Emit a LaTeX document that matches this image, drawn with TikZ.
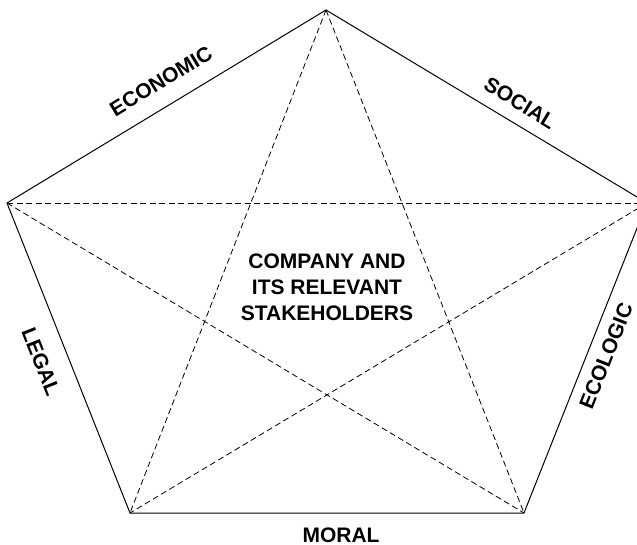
\documentclass[tikz,border=0pt]{standalone}
\usepackage{fontspec}
\setsansfont{Liberation Sans}
\usepackage{tikz}

\tikzset{
  side/.style={line width=1pt, color=black},
  diag/.style={line width=0.8pt, dash pattern=on 6pt off 3.5pt},
  lbl/.style={font=\sffamily\bfseries\fontsize{21}{26}\selectfont, inner sep=0pt}
}

\begin{document}
\begin{tikzpicture}[x=1pt, y=-1pt, every node/.style={lbl}]
  \clip (0,0) rectangle (637,545);

  \coordinate (top) at (326,10);
  \coordinate (left) at (7,203);
  \coordinate (right) at (647,203);
  \coordinate (lowleft) at (130,513);
  \coordinate (lowright) at (524,513);

  \draw[side] (top) -- (right) -- (lowright) -- (lowleft) -- (left) -- cycle;

  \draw[diag] (left) -- (right);
  \draw[diag] (top) -- (lowleft);
  \draw[diag] (top) -- (lowright);
  \draw[diag] (left) -- (lowright);
  \draw[diag] (right) -- (lowleft);

  \node[rotate=31.2] (economic) at (161,81) {ECONOMIC};
  \node[rotate=-31.2] (social) at (520,103) {SOCIAL};
  \node[rotate=-68.4] (legal) at (41,362) {LEGAL};
  \node[rotate=68.4] (ecologic) at (606,356) {ECOLOGIC};
  \node (moral) at (341,535) {MORAL};

  \node[align=center] (company) at (327,287)
  {COMPANY AND\\ITS RELEVANT\\STAKEHOLDERS};
\end{tikzpicture}
\end{document}
